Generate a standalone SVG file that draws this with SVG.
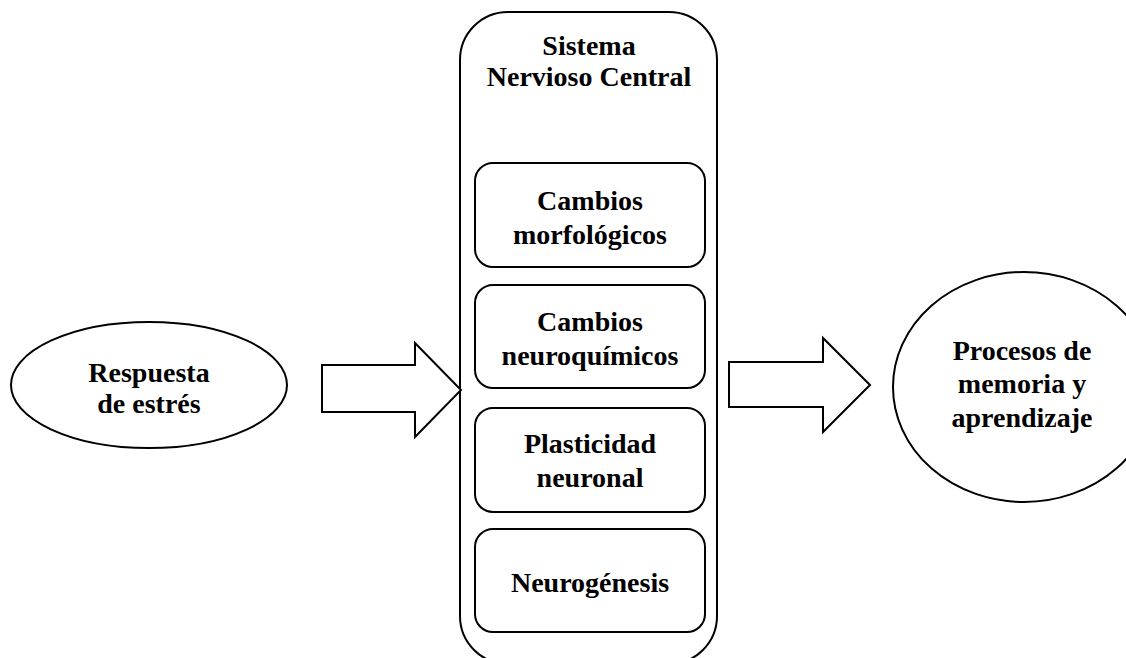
<svg xmlns="http://www.w3.org/2000/svg" width="1126" height="658" viewBox="0 0 1126 658">
<style>
.s{fill:#fff;stroke:#000;stroke-width:2}
.t{font-family:"Liberation Serif","Times New Roman",serif;font-weight:bold;font-size:28px;fill:#000;text-anchor:middle}
</style>
<rect width="1126" height="658" fill="#fff"/>
<g id="respuesta">
<ellipse class="s" cx="149" cy="385" rx="138" ry="63"/>
<text class="t" x="149" y="382">Respuesta</text>
<text class="t" x="149" y="413">de estrés</text>
</g>
<g id="snc">
<rect class="s" x="460" y="12" width="257" height="652" rx="48" ry="48"/>
<text class="t" x="589" y="55">Sistema</text>
<text class="t" x="589" y="86">Nervioso Central</text>
</g>
<g id="morfologicos">
<rect class="s" x="475" y="163" width="230" height="104" rx="18" ry="18"/>
<text class="t" x="590" y="210">Cambios</text>
<text class="t" x="590" y="244">morfológicos</text>
</g>
<g id="neuroquimicos">
<rect class="s" x="475" y="285" width="230" height="103" rx="18" ry="18"/>
<text class="t" x="590" y="331">Cambios</text>
<text class="t" x="590" y="365">neuroquímicos</text>
</g>
<g id="plasticidad">
<rect class="s" x="475" y="408" width="230" height="104" rx="18" ry="18"/>
<text class="t" x="590" y="453">Plasticidad</text>
<text class="t" x="590" y="487">neuronal</text>
</g>
<g id="neurogenesis">
<rect class="s" x="475" y="529" width="230" height="103" rx="18" ry="18"/>
<text class="t" x="590" y="592">Neurogénesis</text>
</g>
<g id="procesos">
<ellipse class="s" cx="1024" cy="387" rx="131" ry="115"/>
<text class="t" x="1022" y="360">Procesos de</text>
<text class="t" x="1022" y="393">memoria y</text>
<text class="t" x="1022" y="427">aprendizaje</text>
</g>
<g id="connectors">
<path class="s" d="M322,365 H415 V343 L461,390 L415,437 V412 H322 Z" stroke-linejoin="miter"/>
<path class="s" d="M729,362 H823 V338 L870,385 L823,432 V407 H729 Z" stroke-linejoin="miter"/>
</g>
</svg>
